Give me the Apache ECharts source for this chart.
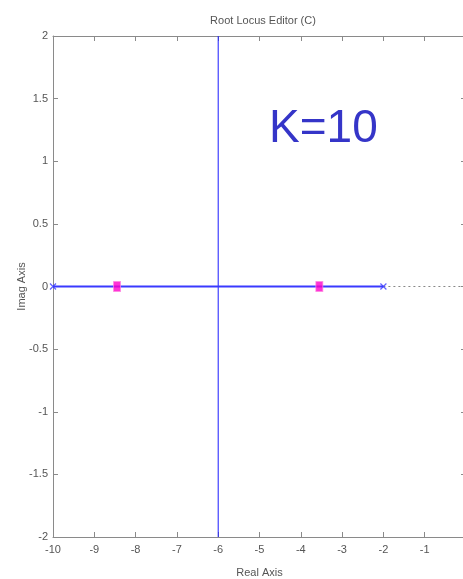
<!DOCTYPE html>
<html>
<head>
<meta charset="utf-8">
<script src="https://cdn.jsdelivr.net/npm/echarts@6/dist/echarts.min.js"></script>
<style>html,body{margin:0;padding:0;background:#fff;overflow:hidden}#c{width:476px;height:579px}</style>
</head>
<body>
<div id="c"></div>
<script>
var titleText = 'Root Locus Editor (C)';
var xAxisName = 'Real Axis';
var yAxisName = 'Imag Axis';
var gainText = 'K=10';
var xMin = -10, xMax = 0, xStep = 1;
var yMin = -2, yMax = 2, yStep = 0.5;
// root locus branches
var realBranch = [[-10, 0], [-2, 0]];
var verticalBranch = [[-6, -2], [-6, 2]];
var dottedSegment = [[-2, 0], [0, 0]];
var poles = [[-10, 0], [-2, 0]];
var closedLoopPoles = [[-8.449, 0], [-3.551, 0]];

var font = '"Liberation Sans Narrow", "Liberation Sans", Arial, sans-serif';
var axisGray = '#8a8a8a';
var textGray = '#555555';

var chart = echarts.init(document.getElementById('c'), null, {renderer: 'canvas'});
var baseX = {
  type: 'value', min: xMin, max: xMax, interval: xStep,
  axisLine: {show: true, onZero: false, lineStyle: {color: axisGray, width: 1}},
  axisTick: {show: true, inside: true, length: 5, lineStyle: {color: axisGray}},
  splitLine: {show: false}
};
var baseY = {
  type: 'value', min: yMin, max: yMax, interval: yStep,
  axisLine: {show: true, onZero: false, lineStyle: {color: axisGray, width: 1}},
  axisTick: {show: true, inside: true, length: 5, lineStyle: {color: axisGray}},
  splitLine: {show: false}
};
chart.setOption({
  animation: false,
  title: {text: titleText, left: 258, top: 10, textAlign: 'center',
    textStyle: {fontFamily: font, fontSize: 11, fontWeight: 'normal', color: textGray}},
  grid: {left: 53, right: 10, top: 36, bottom: 42, containLabel: false, outerBoundsMode: 'none'},
  xAxis: [
    Object.assign({}, baseX, {position: 'bottom', name: xAxisName, nameLocation: 'middle', nameGap: 30,
      nameMoveOverlap: false,
      nameTextStyle: {fontFamily: font, fontSize: 11, color: textGray},
      axisLabel: {show: true, margin: 7, showMaxLabel: false, fontFamily: font, fontSize: 11, color: textGray}}),
    Object.assign({}, baseX, {position: 'top', axisLabel: {show: false}})
  ],
  yAxis: [
    Object.assign({}, baseY, {position: 'left', name: yAxisName, nameLocation: 'middle', nameGap: 26,
      nameMoveOverlap: false,
      nameTextStyle: {fontFamily: font, fontSize: 11, color: textGray},
      axisLabel: {show: true, margin: 5, fontFamily: font, fontSize: 11, color: textGray}}),
    Object.assign({}, baseY, {position: 'right', axisLabel: {show: false}})
  ],
  graphic: [{
    type: 'text', left: 269, top: 106,
    style: {text: gainText, fontFamily: '"Liberation Sans", Arial, sans-serif', fontSize: 46, fill: '#3535c8'}
  }],
  series: [
    {type: 'line', data: dottedSegment, symbol: 'none', lineStyle: {color: '#888888', width: 1, type: [2, 3]}, z: 1},
    {type: 'line', data: verticalBranch, symbol: 'none', lineStyle: {color: '#1a1aff', width: 1}, z: 2},
    {type: 'line', data: realBranch, symbol: 'none', lineStyle: {color: '#3a3aff', width: 2}, z: 2},
    {type: 'scatter', data: poles, symbol: 'path://M0,0L10,10M10,0L0,10', symbolSize: 6,
      itemStyle: {color: 'none', borderColor: '#3a3aff', borderWidth: 1.2}, z: 3},
    {type: 'scatter', data: closedLoopPoles, symbol: 'rect', symbolSize: [7, 10],
      itemStyle: {color: '#ff00cc', borderColor: '#ff88e0', borderWidth: 1}, z: 4}
  ]
});
</script>
</body>
</html>
